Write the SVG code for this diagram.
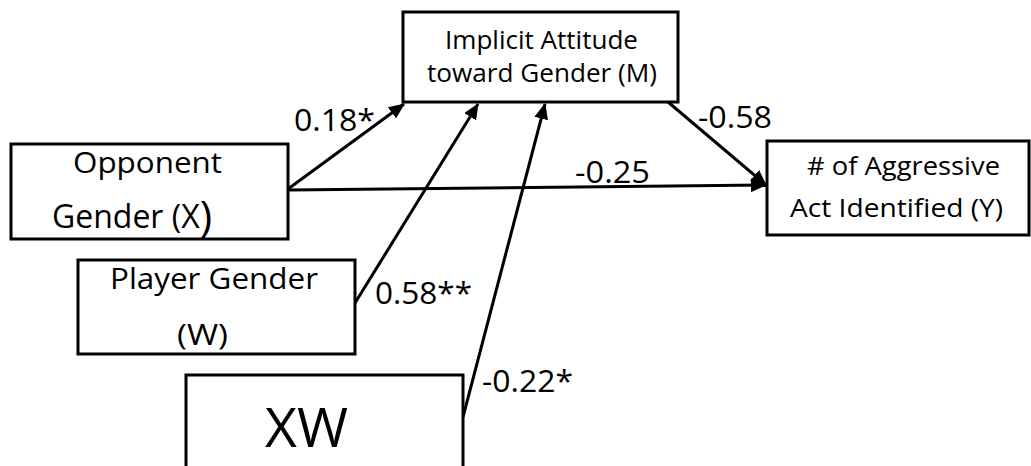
<svg xmlns="http://www.w3.org/2000/svg" width="1031" height="466" viewBox="0 0 1031 466">
<defs>
<style>
.box{fill:#fff;stroke:#000;stroke-width:3}
.t{font-family:"Open Sans","Liberation Sans",sans-serif;fill:#000;text-anchor:middle}
.lbl{font-family:"Open Sans","Liberation Sans",sans-serif;fill:#000;font-size:31px}
.c{stroke:#000;stroke-width:3;fill:none;marker-end:url(#ah)}
</style>
<marker id="ah" markerUnits="userSpaceOnUse" markerWidth="16" markerHeight="14" refX="15" refY="7" orient="auto">
<path d="M0,0 L16,7 L0,14 z" fill="#000"/>
</marker>
</defs>
<rect width="1031" height="466" fill="#fff"/>
<g id="connectors">
<line class="c" x1="288" y1="189" x2="404" y2="104"/>
<line class="c" x1="355" y1="303" x2="478" y2="104"/>
<line class="c" x1="463" y1="417" x2="545" y2="104"/>
<line class="c" x1="288" y1="190" x2="766" y2="185"/>
<line class="c" x1="668" y1="102" x2="766" y2="185"/>
</g>
<g id="labels">
<text class="lbl" x="294" y="131" textLength="81" lengthAdjust="spacingAndGlyphs">0.18*</text>
<text class="lbl" x="698" y="128" textLength="74" lengthAdjust="spacingAndGlyphs">-0.58</text>
<text class="lbl" x="575" y="183" textLength="75" lengthAdjust="spacingAndGlyphs">-0.25</text>
<text class="lbl" x="375" y="304" textLength="97" lengthAdjust="spacingAndGlyphs">0.58**</text>
<text class="lbl" x="482" y="392" textLength="91" lengthAdjust="spacingAndGlyphs">-0.22*</text>
</g>
<g id="node-m">
<rect class="box" x="403" y="12" width="275" height="90"/>
<text class="t" x="541.5" y="49" font-size="26" textLength="193" lengthAdjust="spacingAndGlyphs">Implicit Attitude</text>
<text class="t" x="542" y="82" font-size="26" textLength="230" lengthAdjust="spacingAndGlyphs">toward Gender (M)</text>
</g>
<g id="node-x">
<rect class="box" x="11" y="144" width="277" height="95"/>
<text class="t" x="147.5" y="173" font-size="30" textLength="149" lengthAdjust="spacingAndGlyphs">Opponent</text>
<text class="t" x="132" y="228" font-size="32">Gender (X<tspan font-size="42" dy="3">)</tspan></text>
</g>
<g id="node-w">
<rect class="box" x="78" y="260" width="277" height="94"/>
<text class="t" x="214" y="289" font-size="30" textLength="208" lengthAdjust="spacingAndGlyphs">Player Gender</text>
<text class="t" x="202.5" y="345" font-size="30" textLength="51" lengthAdjust="spacingAndGlyphs">(W)</text>
</g>
<g id="node-xw">
<rect class="box" x="186" y="375" width="277" height="100"/>
<text class="t" x="306.5" y="447" font-size="54" textLength="83" lengthAdjust="spacingAndGlyphs">XW</text>
</g>
<g id="node-y">
<rect class="box" x="767" y="141" width="262" height="94"/>
<text class="t" x="903.5" y="175" font-size="26" textLength="193" lengthAdjust="spacingAndGlyphs"># of Aggressive</text>
<text class="t" x="896.5" y="217" font-size="26" textLength="213" lengthAdjust="spacingAndGlyphs">Act Identified (Y)</text>
</g>
</svg>
